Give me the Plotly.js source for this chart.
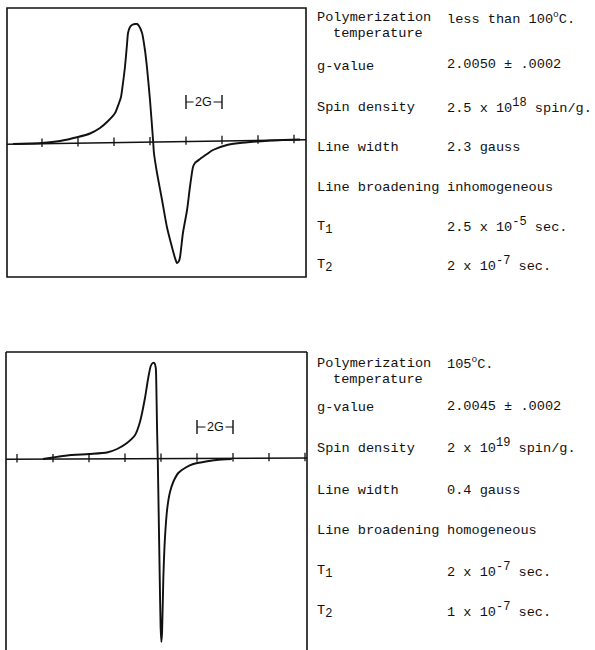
<!DOCTYPE html>
<html>
<head>
<meta charset="utf-8">
<script src="https://cdn.plot.ly/plotly-3.0.1.min.js"></script>
<style>
  html, body { margin: 0; padding: 0; background: #fff; }
  #chart { width: 595px; height: 650px; }
</style>
</head>
<body>
<div id="chart"></div>
<script>
// ESR first-derivative spectra of two polymer samples.
// Field is the offset from the spectrum centre in gauss; signal in arbitrary units.

// Sample polymerized below 100 °C (broad, inhomogeneous line)
const fieldLow = [-7.61, -6.67, -6.0, -5.0, -4.0, -3.33, -2.78, -2.33, -1.94, -1.72, -1.61, -1.5, -1.39,
  -1.28, -1.22, -1.11, -1.0, -0.83, -0.72, -0.61, -0.44, -0.28, -0.17, 0.0, 0.17, 0.22, 0.39, 0.67,
  0.94, 1.22, 1.39, 1.5, 1.61, 1.67, 1.83, 2.06, 2.22, 2.39, 2.5, 2.78, 3.17, 3.5, 4.28, 5.0, 5.94,
  6.67, 7.39, 8.33];
const signalLow = [-2, -1.5, -1, 1, 5, 8.5, 14, 21, 29, 39, 45, 59, 75,
  97, 109, 115, 117, 118, 118, 116, 109, 92, 75, 42, 2, -11, -31, -58,
  -85, -105, -116, -121, -119, -115, -91, -68, -45, -25, -21, -17, -12, -8, -3, -1, 0.5,
  1.5, 2, 2.5];

// Sample polymerized at 105 °C (narrow, homogeneous line)
const fieldHigh = [-6.56, -6.0, -5.22, -4.0, -3.0, -2.44, -1.89, -1.44, -1.17, -0.89, -0.71, -0.57,
  -0.46, -0.37, -0.29, -0.26, -0.22, -0.18, -0.13, -0.07, -0.02, 0.02, 0.06, 0.13, 0.22, 0.35, 0.5,
  0.68, 0.96, 1.33, 1.79, 2.35, 3.09, 3.93];
const signalHigh = [0, 1.5, 3.5, 5, 6.5, 10, 16, 24, 37, 61, 81, 93,
  96, 96, 91, 74, 31, 0, -53, -119, -169, -183, -173, -119, -79, -49, -33,
  -23, -14, -9, -5, -3, -1, 0];

// Recorder baselines (end points) and field markers every 2 gauss
const baseLowField = [-7.94, 8.67];
const baseLowSignal = [-2.3, 2.2];
const baseHighField = [-8.61, 8.11];
const baseHighSignal = [-0.3, 1.0];
const tickLowField = [-6, -4, -2, 0, 2, 4, 6, 8];
const tickHighField = [-8, -6, -4, -2, 0, 2, 4, 6, 8];

// 2 G scale bar
const scaleBarLabel = '2G';
const scaleBarField = [2, 4];
const scaleBarLowSignal = 40;
const scaleBarHighSignal = 32;

// Property table
const propertyNames = ['Polymerization', 'g-value', 'Spin density', 'Line width',
  'Line broadening', 'T<sub>1</sub>', 'T<sub>2</sub>'];
const propertyNameCont = 'temperature';
const lowTempValues = ['less than 100<sup>o</sup>C.', '2.0050 \u00b1 .0002',
  '2.5 x 10<sup>18</sup> spin/g.', '2.3 gauss', 'inhomogeneous',
  '2.5 x 10<sup>-5</sup> sec.', '2 x 10<sup>-7</sup> sec.'];
const highTempValues = ['105<sup>o</sup>C.', '2.0045 \u00b1 .0002',
  '2 x 10<sup>19</sup> spin/g.', '0.4 gauss', 'homogeneous',
  '2 x 10<sup>-7</sup> sec.', '1 x 10<sup>-7</sup> sec.'];

// ---- layout helpers (page pixels -> paper fractions) ----
const W = 595, H = 650;
const fx = (x) => x / W;
const fy = (y) => 1 - y / H;
const INK = '#111111';

const lowNameY = [18, 66, 108, 148, 187, 228, 266];
const lowValueY = [18, 65, 106, 148, 187, 225, 264];
const lowContY = 33;
const highNameY = [363, 407, 448, 490, 530, 572, 612];
const highValueY = [363, 406, 446, 490, 530, 570, 610];
const highContY = 379;
const nameX = 316, contX = 332, valueX = 446;

// enlarge the raised/lowered figures (exponents, subscripts) the way a typewriter prints them
function typeset(s) {
  return s
    .replace(/<sup>([^<]{2,})<\/sup>/g, '<sup><span style="font-size:12px">$1</span></sup>')
    .replace(/<sub>([^<]+)<\/sub>/g, '<sub><span style="font-size:12px">$1</span></sub>');
}

function interp(xs, ys, x) {
  const t = (x - xs[0]) / (xs[1] - xs[0]);
  return ys[0] + t * (ys[1] - ys[0]);
}

const traces = [];
function addPanel(field, signal, baseF, baseS, ticks, barSignal, xa, ya) {
  traces.push({ x: baseF, y: baseS, xaxis: xa, yaxis: ya, mode: 'lines',
    line: { color: INK, width: 1.6 }, hoverinfo: 'skip' });
  traces.push({ x: ticks, y: ticks.map(t => interp(baseF, baseS, t) + 1), xaxis: xa, yaxis: ya,
    mode: 'markers', marker: { symbol: 'line-ns', size: 6, line: { color: INK, width: 1.3 } },
    hoverinfo: 'skip' });
  traces.push({ x: field, y: signal, xaxis: xa, yaxis: ya, mode: 'lines',
    line: { color: INK, width: 1.9, shape: 'spline', smoothing: 0.6 }, hoverinfo: 'skip' });
  traces.push({ x: scaleBarField, y: [barSignal, barSignal], xaxis: xa, yaxis: ya,
    mode: 'lines+markers', line: { color: INK, width: 1.2 },
    marker: { symbol: 'line-ns', size: 10, line: { color: INK, width: 1.4 } }, hoverinfo: 'skip' });
}
addPanel(fieldLow, signalLow, baseLowField, baseLowSignal, tickLowField, scaleBarLowSignal, 'x', 'y');
addPanel(fieldHigh, signalHigh, baseHighField, baseHighSignal, tickHighField, scaleBarHighSignal, 'x2', 'y2');

const textFont = { family: 'Liberation Mono, Courier New, monospace', size: 13.6, color: INK };
const annotations = [];
function addText(text, xpx, ypx) {
  annotations.push({ text: typeset(text), xref: 'paper', yref: 'paper', x: fx(xpx), y: fy(ypx),
    xanchor: 'left', yanchor: 'middle', showarrow: false, font: textFont, borderpad: 0 });
}
propertyNames.forEach((n, i) => {
  addText(n, nameX, lowNameY[i]);
  addText(lowTempValues[i], valueX, lowValueY[i]);
  addText(n, nameX, highNameY[i]);
  addText(highTempValues[i], valueX, highValueY[i]);
});
addText(propertyNameCont, contX, lowContY);
addText(propertyNameCont, contX, highContY);

// scale bar labels sit on a white patch over the bar
[['x', 'y', scaleBarLowSignal], ['x2', 'y2', scaleBarHighSignal]].forEach(([xa, ya, s]) => {
  annotations.push({ text: scaleBarLabel, xref: xa, yref: ya,
    x: (scaleBarField[0] + scaleBarField[1]) / 2, y: s, showarrow: false,
    bgcolor: '#ffffff', borderpad: 1,
    font: { family: 'Liberation Sans, Arial, sans-serif', size: 12.5, color: INK } });
});

const frame = { color: INK, width: 1.6 };
const shapes = [
  { type: 'rect', xref: 'x domain', yref: 'y domain', x0: 0, x1: 1, y0: 0, y1: 1, line: frame },
  { type: 'line', xref: 'x2 domain', yref: 'y2 domain', x0: 0, x1: 0, y0: 0, y1: 1, line: frame },
  { type: 'line', xref: 'x2 domain', yref: 'y2 domain', x0: 0, x1: 1, y0: 1, y1: 1, line: frame },
  { type: 'line', xref: 'x2 domain', yref: 'y2 domain', x0: 1, x1: 1, y0: 0, y1: 1, line: frame }
];

const hidden = { visible: false, fixedrange: true, showgrid: false, zeroline: false };
const layout = {
  width: W, height: H,
  margin: { l: 0, r: 0, t: 0, b: 0 },
  paper_bgcolor: '#ffffff', plot_bgcolor: '#ffffff',
  showlegend: false,
  xaxis: Object.assign({}, hidden, { domain: [fx(7), fx(306)], range: [-7.944, 8.667], anchor: 'y' }),
  yaxis: Object.assign({}, hidden, { domain: [fy(277), fy(8)], range: [-135, 134], anchor: 'x' }),
  xaxis2: Object.assign({}, hidden, { domain: [fx(6), fx(307)], range: [-8.611, 8.111], anchor: 'y2' }),
  yaxis2: Object.assign({}, hidden, { domain: [fy(650), fy(352)], range: [-191, 107], anchor: 'x2' }),
  shapes: shapes,
  annotations: annotations
};

Plotly.newPlot('chart', traces, layout, { staticPlot: true, displayModeBar: false });
</script>
</body>
</html>
